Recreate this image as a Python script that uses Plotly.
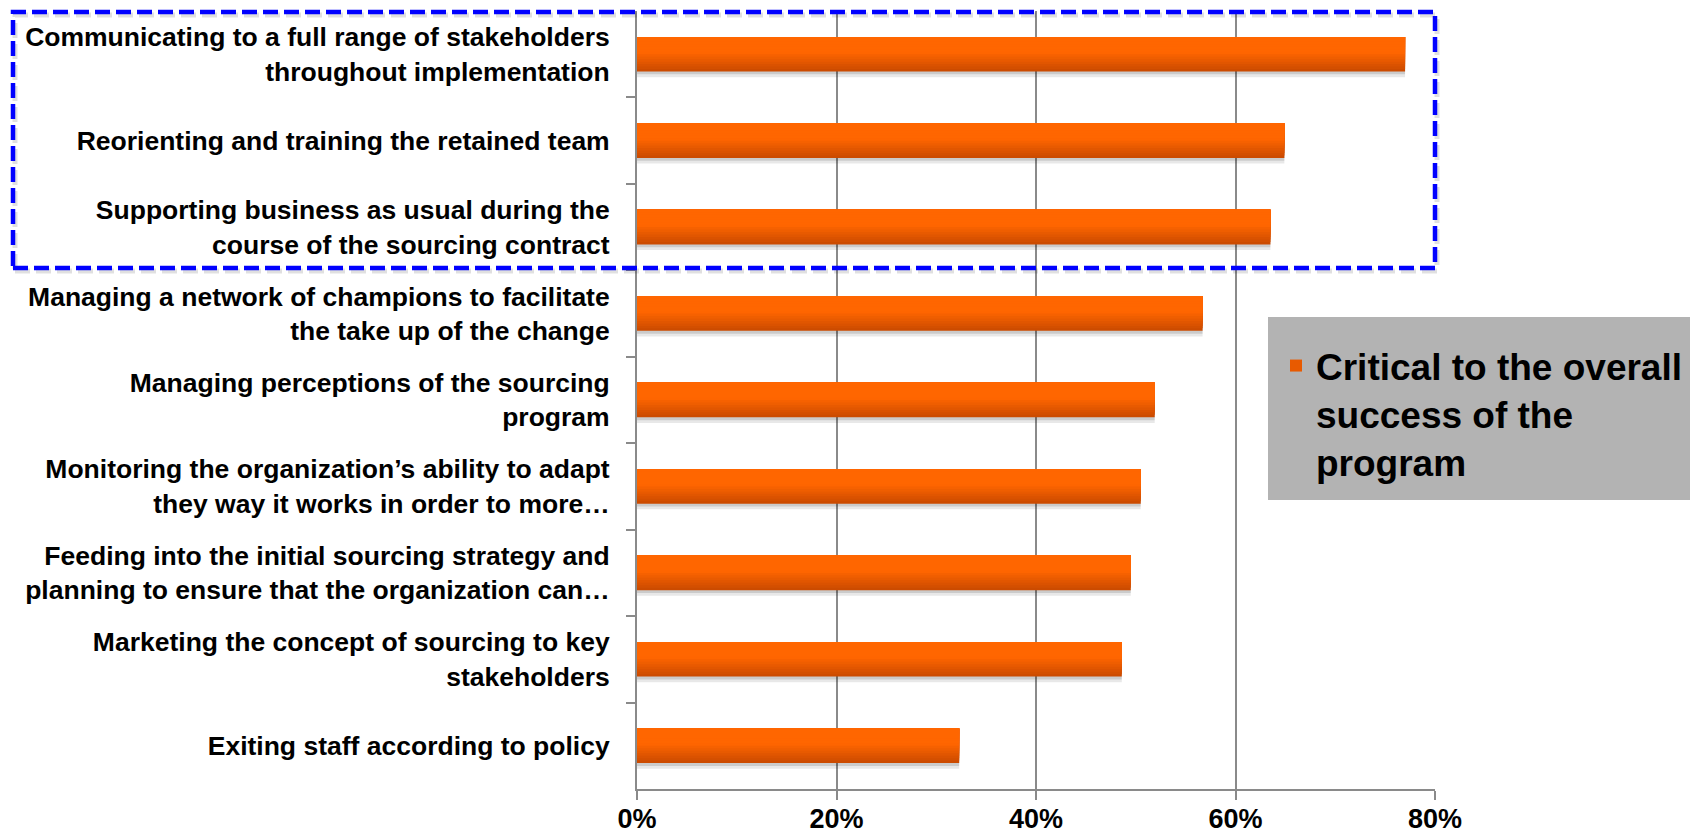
import plotly.graph_objects as go

categories = [
    "Communicating to a full range of stakeholders<br>throughout implementation",
    "Reorienting and training the retained team",
    "Supporting business as usual during the<br>course of the sourcing contract",
    "Managing a network of champions to facilitate<br>the take up of the change",
    "Managing perceptions of the sourcing<br>program",
    "Monitoring the organization’s ability to adapt<br>they way it works in order to more…",
    "Feeding into the initial sourcing strategy and<br>planning to ensure that the organization can…",
    "Marketing the concept of sourcing to key<br>stakeholders",
    "Exiting staff according to policy",
]
values = [0.770, 0.649, 0.635, 0.567, 0.519, 0.505, 0.495, 0.486, 0.323]
series_name = "Critical to the overall<br>success of the<br>program"
x_ticks = [0, 0.2, 0.4, 0.6, 0.8]
x_ticktext = ["0%", "20%", "40%", "60%", "80%"]

FONT = "Liberation Sans, Arial, Helvetica, sans-serif"
BAR_W = 0.4
TOP = "#FF6600"
BOT = "#C84900"


def hex2rgb(h):
    h = h.lstrip("#")
    return tuple(int(h[i:i + 2], 16) for i in (0, 2, 4))


def shade(d):
    # d: depth fraction from top of bar (0) to bottom (1)
    t = 0.0 if d <= 0.45 else (d - 0.45) / 0.55
    a, b = hex2rgb(TOP), hex2rgb(BOT)
    c = [round(a[i] + (b[i] - a[i]) * t) for i in range(3)]
    return "rgb(%d,%d,%d)" % tuple(c)


fig = go.Figure()

# soft shadow under bars
fig.add_trace(go.Bar(
    x=values, y=categories, orientation="h",
    offset=-BAR_W / 2 + 0.03, width=BAR_W + 0.035,
    marker=dict(color="rgba(0,0,0,0.09)", line=dict(width=0)),
    showlegend=False, hoverinfo="skip",
))
fig.add_trace(go.Bar(
    x=values, y=categories, orientation="h",
    offset=-BAR_W / 2 + 0.015, width=BAR_W + 0.018,
    marker=dict(color="rgba(0,0,0,0.12)", line=dict(width=0)),
    showlegend=False, hoverinfo="skip",
))

# vertical gradient built from overlaid bars
N = 14
for k in range(N, 0, -1):
    d = k / N
    fig.add_trace(go.Bar(
        x=values, y=categories, orientation="h",
        offset=-BAR_W / 2, width=BAR_W * d,
        marker=dict(color=shade((k - 0.5) / N), line=dict(width=0)),
        name=series_name,
        showlegend=(k == 10),
        hovertemplate="%{y}: %{x:.0%}<extra></extra>",
    ))

# page body has an 8px margin: figure coords = screen coords - 8
OFF = 8
W, H = 1698 - OFF, 833 - OFF
plot_l, plot_r = 637, 1435      # screen px
plot_t, plot_b = 11, 789        # screen px
pw, ph = plot_r - plot_l, plot_b - plot_t


def px(xp):
    return (xp - plot_l) / pw


def py(yp):
    return (plot_b - yp) / ph


shapes = [
    # grey legend panel
    dict(type="rect", xref="paper", yref="paper",
         x0=px(1268), x1=px(1710), y0=py(500), y1=py(317),
         fillcolor="#B3B3B3", line=dict(width=0), layer="above"),
    # dashed highlight box shadow
    dict(type="rect", xref="paper", yref="paper",
         x0=px(15), x1=px(1437), y0=py(271), y1=py(15),
         line=dict(color="rgba(0,0,0,0.12)", width=5, dash="15px,6px"),
         layer="above"),
    # dashed highlight box
    dict(type="rect", xref="paper", yref="paper",
         x0=px(13), x1=px(1435), y0=py(268), y1=py(12),
         line=dict(color="#0000FF", width=4.5, dash="15px,6px"),
         layer="above"),
]

fig.update_layout(
    width=W, height=H,
    margin=dict(l=plot_l - OFF, r=W - (plot_r - OFF), t=plot_t - OFF,
                b=H - (plot_b - OFF), pad=0, autoexpand=False),
    paper_bgcolor="white", plot_bgcolor="white",
    barmode="overlay",
    font=dict(family=FONT, color="black", weight="bold"),
    showlegend=True,
    legend=dict(
        x=px(1276), y=py(335), xanchor="left", yanchor="top",
        bgcolor="rgba(0,0,0,0)", borderwidth=0,
        font=dict(family=FONT, size=37, color="black", weight="bold"),
        valign="top", itemsizing="constant", itemwidth=30,
    ),
    shapes=shapes,
    xaxis=dict(
        range=[0, 0.8], tickvals=x_ticks, ticktext=x_ticktext,
        automargin=False,
        showgrid=True, gridcolor="#8A8A8A", gridwidth=1.5,
        showline=True, linecolor="#8A8A8A", linewidth=2,
        ticks="outside", ticklen=9, tickcolor="#8A8A8A", tickwidth=1.5,
        ticklabelstandoff=-4,
        tickfont=dict(family=FONT, size=27, color="black", weight="bold"),
        zeroline=False, fixedrange=True,
    ),
    yaxis=dict(
        type="category", categoryorder="array", categoryarray=categories,
        autorange="reversed", automargin=False,
        showline=True, linecolor="#8A8A8A", linewidth=2,
        ticks="outside", ticklen=9, tickcolor="#8A8A8A", tickwidth=1.5,
        tickson="boundaries", showgrid=False,
        ticklabelstandoff=20,
        tickfont=dict(family=FONT, size=26.5, color="black", weight="bold"),
        fixedrange=True,
    ),
)

fig.write_html("out.html")
